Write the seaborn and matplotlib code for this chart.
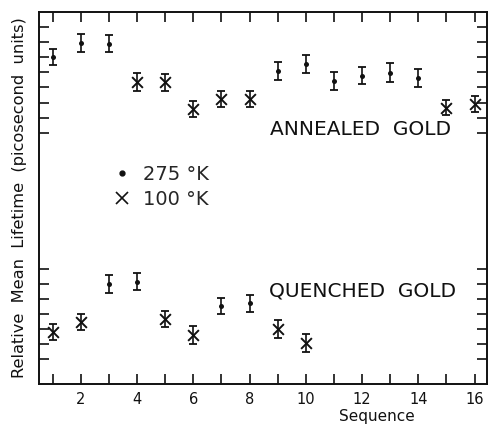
import matplotlib
matplotlib.use("Agg")
import matplotlib.pyplot as plt
from matplotlib.lines import Line2D
import numpy as np
import pandas as pd
import seaborn as sns

# sequence numbers
seq_annealed = list(range(1, 17))
seq_quenched = list(range(1, 11))

# relative mean lifetime (arbitrary tick units)
annealed_life = [21.04, 21.97, 21.90, 19.38, 19.34, 17.58, 18.22, 18.22,
                 20.09, 20.56, 19.43, 19.78, 19.98, 19.65, 17.66, 17.91]
annealed_err = [0.53, 0.59, 0.56, 0.59, 0.58, 0.53, 0.52, 0.52,
                0.57, 0.57, 0.58, 0.56, 0.61, 0.60, 0.50, 0.54]
annealed_temp = ["275", "275", "275", "100", "100", "100", "100", "100",
                 "275", "275", "275", "275", "275", "275", "100", "100"]

quenched_life = [2.83, 3.45, 5.97, 6.14, 3.65, 2.61, 4.55, 4.71, 3.01, 2.06]
quenched_err = [0.53, 0.53, 0.58, 0.58, 0.53, 0.57, 0.53, 0.55, 0.59, 0.59]
quenched_temp = ["100", "100", "275", "275", "100", "100", "275", "275", "100", "100"]

y_ticks = [1, 2, 3, 4, 5, 6, 7, 16, 17, 18, 19, 20, 21, 22, 23]
x_ticks = list(range(1, 17))
x_ticklabels = [str(i) if i % 2 == 0 else "" for i in x_ticks]

df = pd.DataFrame({
    "sequence": seq_annealed + seq_quenched,
    "lifetime": annealed_life + quenched_life,
    "err": annealed_err + quenched_err,
    "temp": annealed_temp + quenched_temp,
})

sns.set_style("ticks")
plt.rcParams["font.family"] = ["DejaVu Sans"]
INK = "#111111"

fig = plt.figure(figsize=(4.9, 4.29), dpi=100)
ax = fig.add_axes([0.0806, 0.1042, 0.9127, 0.8685])

ax.errorbar(df["sequence"], df["lifetime"], yerr=df["err"], fmt="none",
            ecolor=INK, elinewidth=1.2, capsize=2.6, capthick=1.3, zorder=2)

warm = df[df["temp"] == "275"]
cold = df[df["temp"] == "100"]
sns.scatterplot(data=warm, x="sequence", y="lifetime", marker="o", s=13,
                color=INK, edgecolor=INK, linewidth=0, ax=ax, zorder=3)
sns.scatterplot(data=cold, x="sequence", y="lifetime", marker="x", s=60,
                color=INK, linewidth=1.4, ax=ax, zorder=3)

ax.set_xlim(0.53, 16.43)
ax.set_ylim(-0.66, 24.02)

ax.set_xticks(x_ticks)
ax.set_xticklabels(x_ticklabels, fontsize=10.5)
ax.set_yticks(y_ticks)
ax.set_yticklabels([])
ax.tick_params(axis="both", direction="in", length=7.5, width=1.2, color=INK,
               top=True, right=True, labelcolor=INK)
ax.tick_params(axis="x", pad=5.5)

for sp in ax.spines.values():
    sp.set_visible(True)
    sp.set_linewidth(1.4)
    sp.set_color(INK)

ax.set_xlabel("Sequence", fontsize=11, color=INK)
ax.xaxis.set_label_coords(0.755, -0.066)
ax.set_ylabel("Relative  Mean  Lifetime  (picosecond  units)", fontsize=11.7, color=INK)
ax.yaxis.set_label_coords(-0.028, 0.5)

ax.text(8.73, 16.25, "ANNEALED  GOLD", fontsize=14.5, color=INK, ha="left", va="center")
ax.text(8.70, 5.52, "QUENCHED  GOLD", fontsize=14.5, color=INK, ha="left", va="center")

handles = [
    Line2D([], [], linestyle="none", marker="o", markersize=3.5, color=INK),
    Line2D([], [], linestyle="none", marker="x", markersize=8, markeredgewidth=1.2, color=INK),
]
ax.legend(handles, ["275 °K", "100 °K"], loc="upper left", bbox_to_anchor=(0.162, 0.5886),
          frameon=False, fontsize=14, borderpad=0, handlelength=1, handletextpad=0.6,
          labelspacing=0.3, borderaxespad=0)

fig.savefig("out.png", dpi=100)
